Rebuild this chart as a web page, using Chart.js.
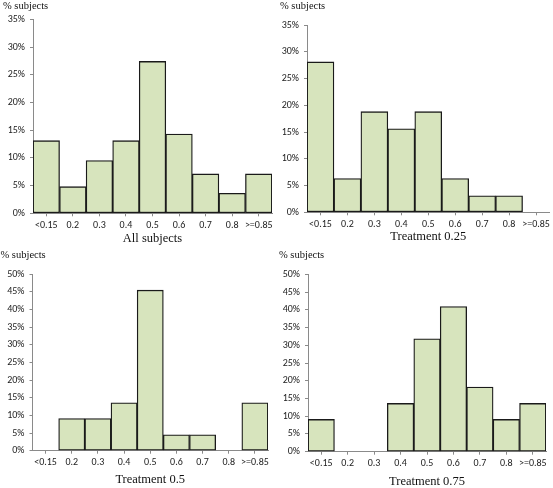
<!DOCTYPE html>
<html>
<head>
<meta charset="utf-8">
<title>% subjects by bin</title>
<script src="https://cdn.jsdelivr.net/npm/chart.js@4.4.1/dist/chart.umd.min.js"></script>
<style>
    body { margin: 0; background: #fff; }
    #wrap { position: relative; width: 553px; height: 488px; }
    #wrap canvas { position: absolute; }
</style>
</head>
<body>
<div id="wrap">
    <canvas id="chartAll" width="276" height="250" style="left:0;top:0"></canvas>
    <canvas id="chartT025" width="277" height="250" style="left:276px;top:0"></canvas>
    <canvas id="chartT05" width="276" height="238" style="left:0;top:250px"></canvas>
    <canvas id="chartT075" width="277" height="238" style="left:276px;top:250px"></canvas>
</div>
<script>
// Data (% of subjects per bin)
const categories = ['<0.15', '0.2', '0.3', '0.4', '0.5', '0.6', '0.7', '0.8', '>=0.85'];
const allSubjects = [13.1, 4.8, 9.5, 13.1, 27.4, 14.3, 7.1, 3.6, 7.1];
const treatment025 = [28.1, 6.3, 18.8, 15.6, 18.8, 6.3, 3.1, 3.1, 0];
const treatment05 = [0, 9.1, 9.1, 13.6, 45.5, 4.5, 4.5, 0, 13.6];
const treatment075 = [9.1, 0, 0, 13.6, 31.8, 40.9, 18.2, 9.1, 13.6];

const topPanelMax = 35;
const bottomPanelMax = 50;
const tickStep = 5;
const yAxisLabel = '% subjects';

const BAR_FILL = '#d7e4bd';
const BAR_EDGE = '#1a1a1a';
const AXIS_GRAY = '#8a8a8a';
const TICK_FONT = { family: "Carlito, 'Liberation Sans', sans-serif", size: 10 };

// Build one histogram panel
function makePanel(canvasId, values, title, yMax, box) {
    const ctx = document.getElementById(canvasId);
    return new Chart(ctx, {
        type: 'bar',
        data: {
            labels: categories,
            datasets: [{
                data: values,
                backgroundColor: BAR_FILL,
                borderColor: BAR_EDGE,
                borderWidth: 1.3,
                borderSkipped: false,
                barPercentage: 1,
                categoryPercentage: 1
            }]
        },
        options: {
            responsive: false,
            animation: false,
            events: [],
            layout: {
                padding: { left: box.padLeft, right: box.padRight, top: 0, bottom: 0 }
            },
            plugins: {
                legend: { display: false },
                tooltip: { enabled: false },
                title: {
                    display: true,
                    text: yAxisLabel,
                    align: 'start',
                    color: '#111',
                    font: { family: "'Liberation Serif', 'Times New Roman', serif", size: 10.5, weight: 'normal', lineHeight: 1 },
                    padding: { top: box.labelTop, bottom: box.labelBottom }
                }
            },
            scales: {
                x: {
                    grid: {
                        offset: false,
                        drawOnChartArea: false,
                        drawTicks: true,
                        tickLength: 3,
                        color: AXIS_GRAY
                    },
                    border: { color: AXIS_GRAY, width: 1 },
                    ticks: {
                        autoSkip: false,
                        maxRotation: 0,
                        padding: 3,
                        color: '#222',
                        font: TICK_FONT
                    },
                    title: {
                        display: true,
                        text: title,
                        color: '#111',
                        font: { family: "'Liberation Serif', 'Times New Roman', serif", size: 12.5, lineHeight: 1 },
                        padding: { top: 0, bottom: box.titleBottom }
                    },
                    afterFit: function(scale) {
                        scale.height = box.xHeight;
                    }
                },
                y: {
                    min: 0,
                    max: yMax,
                    grid: {
                        drawOnChartArea: false,
                        drawTicks: true,
                        tickLength: 3,
                        color: AXIS_GRAY
                    },
                    border: { color: AXIS_GRAY, width: 1 },
                    ticks: {
                        stepSize: tickStep,
                        padding: 5,
                        color: '#222',
                        font: TICK_FONT,
                        callback: function(value) {
                            return value + '%';
                        }
                    },
                    afterFit: function(scale) {
                        scale.width = box.yWidth;
                    }
                }
            }
        }
    });
}

makePanel('chartAll', allSubjects, 'All subjects', topPanelMax,
    { padLeft: 3, padRight: 4, labelTop: 1, labelBottom: 7.8, xHeight: 36.7, yWidth: 30, titleBottom: 5.3 });
makePanel('chartT025', treatment025, 'Treatment 0.25', topPanelMax,
    { padLeft: 4, padRight: 2, labelTop: 0.7, labelBottom: 13.8, xHeight: 37.7, yWidth: 27, titleBottom: 7 });
makePanel('chartT05', treatment05, 'Treatment 0.5', bottomPanelMax,
    { padLeft: 0.5, padRight: 8, labelTop: 0, labelBottom: 13.8, xHeight: 37.3, yWidth: 32, titleBottom: 1.6 });
makePanel('chartT075', treatment075, 'Treatment 0.75', bottomPanelMax,
    { padLeft: 3, padRight: 7, labelTop: 0.4, labelBottom: 13.4, xHeight: 36.3, yWidth: 29, titleBottom: 0.4 });
</script>
</body>
</html>
